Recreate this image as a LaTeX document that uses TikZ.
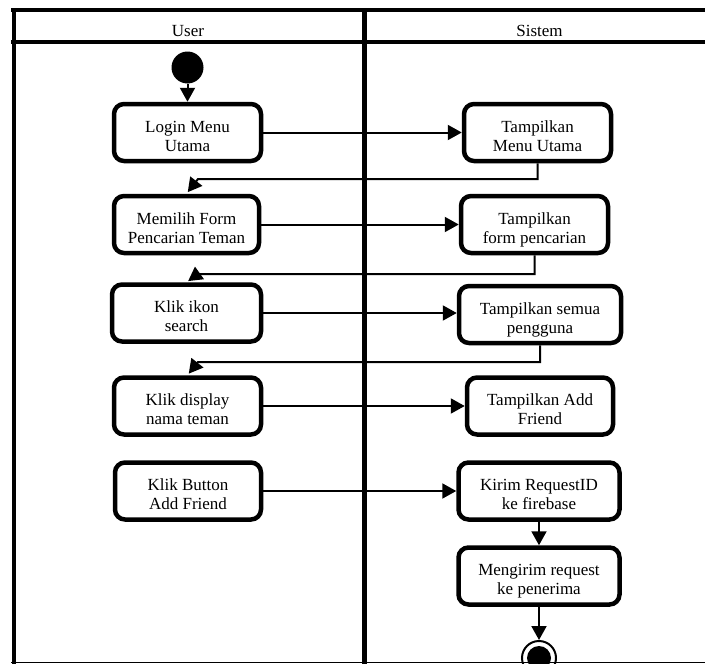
\documentclass[tikz,border=0pt]{standalone}
\usepackage{fontspec}
\setmainfont{Liberation Serif}
\usetikzlibrary{arrows.meta}
\begin{document}
\begin{tikzpicture}[x=1pt,y=-1pt,
  lane/.style={line width=4.5pt},
  act/.style={draw, line width=4.5pt, rounded corners=10pt, fill=white,
    align=center, inner sep=0pt, minimum height=57pt,
    text height=41pt, text depth=4pt,
    font=\fontsize{17}{19}\selectfont},
  hdr/.style={font=\fontsize{17}{19}\selectfont, inner sep=0pt},
  flow/.style={line width=2pt, -{Triangle[length=14pt,width=15pt]}}]
\useasboundingbox (0,0) rectangle (705,664);

% swimlane frame
\draw[lane] (11,10) -- (705,10);
\draw[lane] (11,42) -- (705,42);
\draw[lane] (14,10) -- (14,664);
\draw[lane] (364.5,10) -- (364.5,664);
\node[hdr, anchor=base] (userlane) at (188,36) {User};
\node[hdr, anchor=base] (syslane) at (539.5,36) {Sistem};

% start and end
\node[circle, fill, minimum size=32pt, inner sep=0pt] (start) at (187.5,67.5) {};
\node[circle, draw, line width=2pt, fill=white, minimum size=34pt, inner sep=0pt] (end) at (539,658) {};
\fill (end.center) circle (12pt);

% user activities
\node[act, minimum width=147pt] (u1) at (187.5,132.5) {Login Menu\\Utama};
\node[act, minimum width=145pt] (u2) at (186.5,224.5) {Memilih Form\\Pencarian Teman};
\node[act, minimum width=149pt] (u3) at (186.5,313) {Klik ikon\\search};
\node[act, minimum width=147pt] (u4) at (187.5,406) {Klik display\\nama teman};
\node[act, minimum width=146pt] (u5) at (188,491) {Klik Button\\Add Friend};

% system activities
\node[act, minimum width=147pt] (s1) at (537.5,132.5) {Tampilkan\\Menu Utama};
\node[act, minimum width=147pt] (s2) at (534.5,224.5) {Tampilkan\\form pencarian};
\node[act, minimum width=162pt] (s3) at (540,314.5) {Tampilkan semua\\pengguna};
\node[act, minimum width=146pt] (s4) at (540,406) {Tampilkan Add\\Friend};
\node[act, minimum width=161pt] (s5) at (539,491) {Kirim RequestID\\ke firebase};
\node[act, minimum width=161pt] (s6) at (539,576) {Mengirim request\\ke penerima};

% bends of the return flows
\coordinate (r1) at (198,179);
\coordinate (r2) at (198,274);
\coordinate (r3) at (198,362);

% flows
\draw[flow] (start) -- (u1);
\draw[flow] (u1.east) -- (s1.west);
\draw[flow, shorten >=2pt] (s1.south) |- (r1) -- (u2.north);
\draw[flow] (u2.east) -- (s2.west);
\draw[flow, shorten >=2pt] (s2.south) |- (r2) -- (u3.north);
\draw[flow] (u3.east) -- (u3.east -| s3.west);
\draw[flow, shorten >=2pt] (s3.south) |- (r3) -- (u4.north);
\draw[flow] (u4.east) -- (s4.west);
\draw[flow] (u5.east) -- (s5.west);
\draw[flow] (s5.south) -- (s6.north);
\draw[flow] (s6.south) -- (end.north);

% bottom edge of the lanes
\draw[line width=1.5pt] (11,662.5) -- (705,662.5);
\end{tikzpicture}
\end{document}
